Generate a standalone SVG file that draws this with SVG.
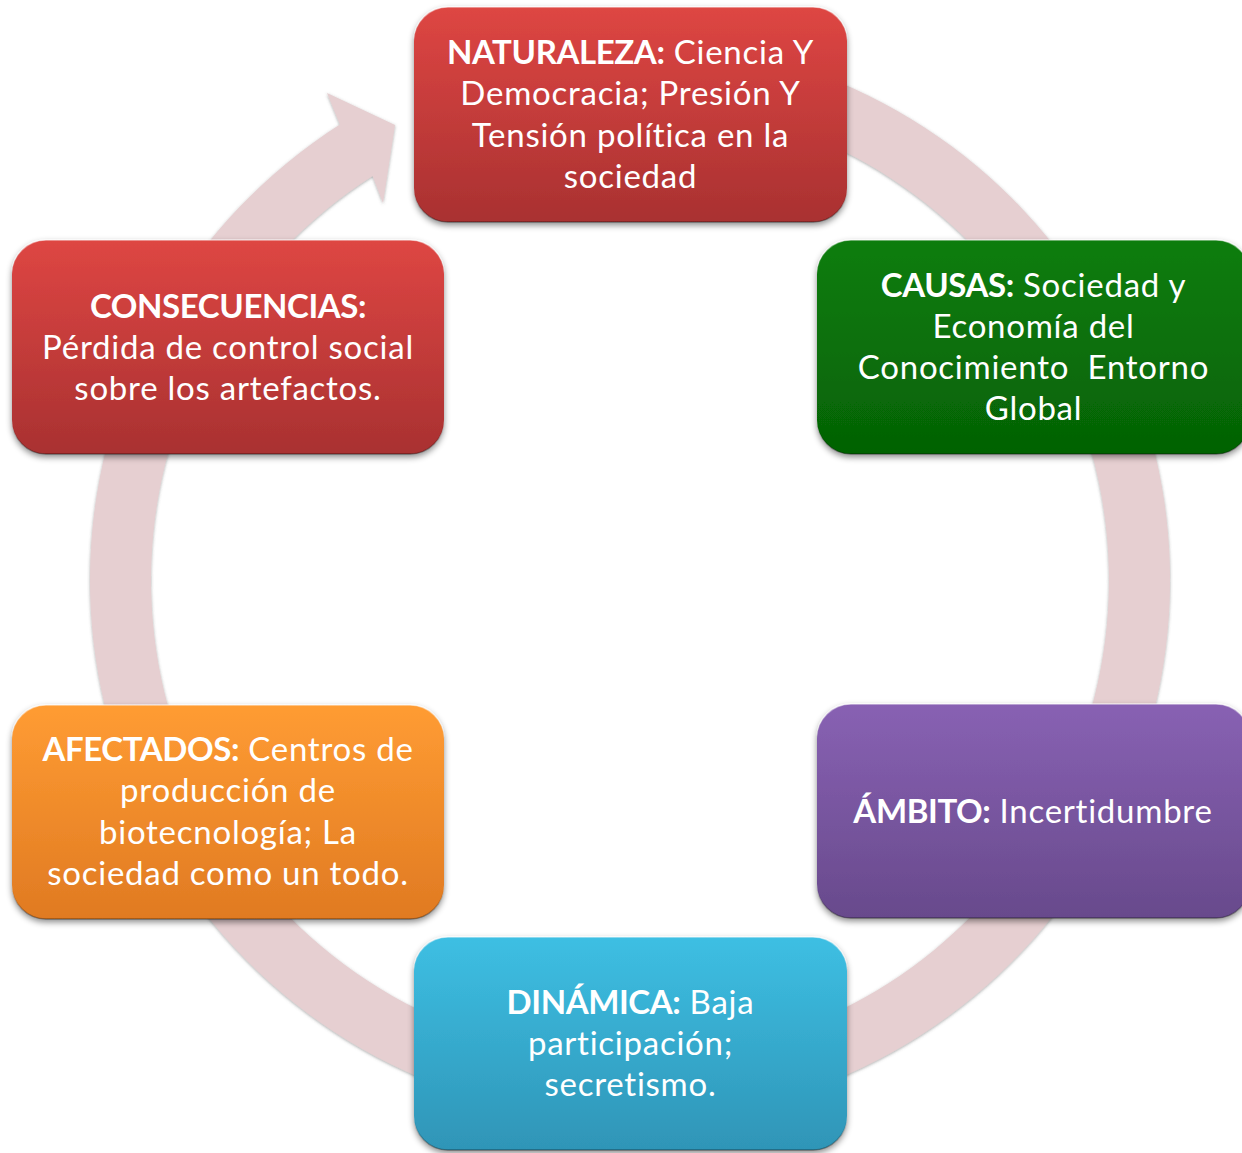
<svg xmlns="http://www.w3.org/2000/svg" width="1242" height="1153" viewBox="0 0 1242 1153">
<defs>
<style>
.t{font-family:Lato,"Open Sans","Liberation Sans",sans-serif;font-size:33px;letter-spacing:0.75px;fill:#ffffff;text-anchor:middle}
.b{font-weight:bold;letter-spacing:-0.4px}
.box{filter:url(#sh);stroke-width:1.5}
</style>
<filter id="sh" x="-10%" y="-10%" width="120%" height="130%">
<feDropShadow dx="0" dy="3" stdDeviation="3" flood-color="#000" flood-opacity="0.45"/>
</filter>
<filter id="rsh" x="-5%" y="-5%" width="110%" height="110%">
<feDropShadow dx="0" dy="1" stdDeviation="1.5" flood-color="#555" flood-opacity="0.5"/>
</filter>
<linearGradient id="gRed" x1="0" y1="0" x2="0" y2="1"><stop offset="0" stop-color="#DE4643"/><stop offset="1" stop-color="#A93131"/></linearGradient>
<linearGradient id="gGreen" x1="0" y1="0" x2="0" y2="1"><stop offset="0" stop-color="#0D7D0D"/><stop offset="1" stop-color="#056205"/></linearGradient>
<linearGradient id="gPurple" x1="0" y1="0" x2="0" y2="1"><stop offset="0" stop-color="#8861B3"/><stop offset="1" stop-color="#684A8C"/></linearGradient>
<linearGradient id="gOrange" x1="0" y1="0" x2="0" y2="1"><stop offset="0" stop-color="#FF9C33"/><stop offset="1" stop-color="#E07A22"/></linearGradient>
<linearGradient id="gBlue" x1="0" y1="0" x2="0" y2="1"><stop offset="0" stop-color="#3DBFE3"/><stop offset="1" stop-color="#2F95B7"/></linearGradient>
<linearGradient id="edge" x1="0" y1="0" x2="0" y2="1"><stop offset="0" stop-color="#ffffff" stop-opacity="0.55"/><stop offset="0.15" stop-color="#ffffff" stop-opacity="0"/><stop offset="0.85" stop-color="#000000" stop-opacity="0"/><stop offset="1" stop-color="#000000" stop-opacity="0.35"/></linearGradient>
</defs>
<rect width="1242" height="1153" fill="#ffffff"/>
<g id="connectors">
<path filter="url(#rsh)" fill="#E6CFD1" d="M 582.9 42.1 A 540 540 0 1 1 339.9 124.6 L 327 93 L 395 125 L 383 203 L 372.6 176 A 479 479 0 1 0 588.2 102.8 Z"/>
</g>
<g id="naturaleza">
<rect class="box" x="414" y="7" width="433" height="215" rx="34" fill="url(#gRed)" stroke="url(#edge)"/>
<text class="t"><tspan x="630.5" y="64"><tspan class="b">NATURALEZA:</tspan> Ciencia Y</tspan><tspan x="630.5" y="105.3">Democracia; Presión Y</tspan><tspan x="630.5" y="146.6">Tensión política en la</tspan><tspan x="630.5" y="187.9">sociedad</tspan></text>
</g>
<g id="causas">
<rect class="box" x="817" y="240" width="433" height="214" rx="34" fill="url(#gGreen)" stroke="url(#edge)"/>
<text class="t" xml:space="preserve"><tspan x="1033.5" y="296.5"><tspan class="b">CAUSAS:</tspan> Sociedad y</tspan><tspan x="1033.5" y="337.8">Economía del</tspan><tspan x="1033.5" y="379.1">Conocimiento  Entorno</tspan><tspan x="1033.5" y="420.4">Global</tspan></text>
</g>
<g id="ambito">
<rect class="box" x="817" y="704" width="433" height="214" rx="34" fill="url(#gPurple)" stroke="url(#edge)"/>
<text class="t"><tspan x="1033" y="822.5"><tspan class="b">ÁMBITO:</tspan> Incertidumbre</tspan></text>
</g>
<g id="dinamica">
<rect class="box" x="414" y="937" width="433" height="213" rx="34" fill="url(#gBlue)" stroke="url(#edge)"/>
<text class="t"><tspan x="630.5" y="1013.5"><tspan class="b">DINÁMICA:</tspan> Baja</tspan><tspan x="630.5" y="1054.8">participación;</tspan><tspan x="630.5" y="1096.1">secretismo.</tspan></text>
</g>
<g id="afectados">
<rect class="box" x="12" y="705" width="432" height="214" rx="34" fill="url(#gOrange)" stroke="url(#edge)"/>
<text class="t"><tspan x="228" y="761"><tspan class="b">AFECTADOS:</tspan> Centros de</tspan><tspan x="228" y="802.3">producción de</tspan><tspan x="228" y="843.6">biotecnología; La</tspan><tspan x="228" y="884.9">sociedad como un todo.</tspan></text>
</g>
<g id="consecuencias">
<rect class="box" x="12" y="240" width="432" height="214" rx="34" fill="url(#gRed)" stroke="url(#edge)"/>
<text class="t"><tspan x="228" y="317.5" class="b">CONSECUENCIAS:</tspan><tspan x="228" y="358.8">Pérdida de control social</tspan><tspan x="228" y="400.1">sobre los artefactos.</tspan></text>
</g>
</svg>
